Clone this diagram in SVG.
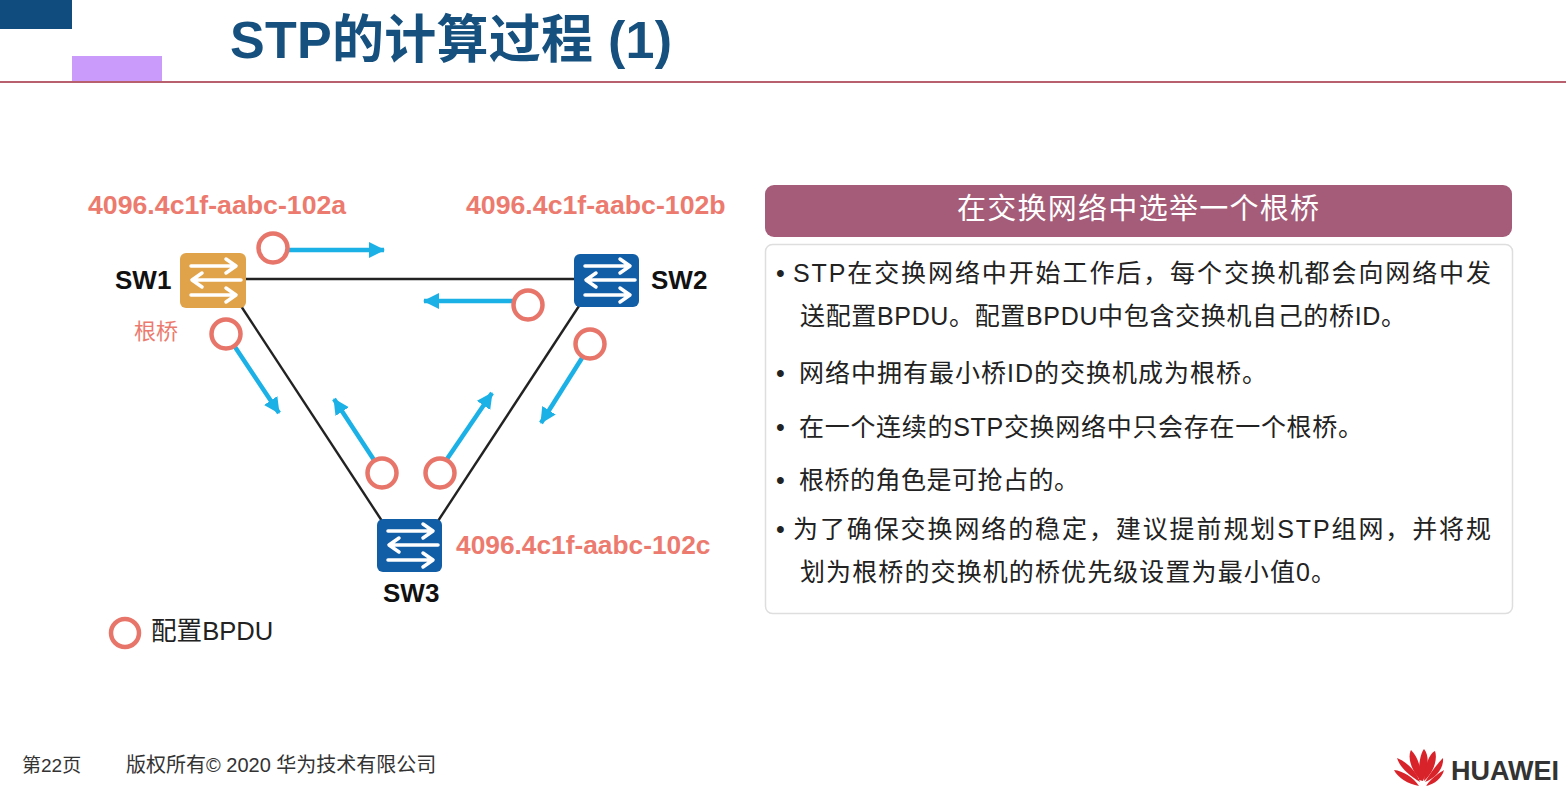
<svg xmlns="http://www.w3.org/2000/svg" width="1566" height="791" viewBox="0 0 1566 791">
<style>
text{font-family:"Liberation Sans","Noto Sans CJK SC",sans-serif}
.id{font-size:26.7px;font-weight:bold;fill:#ec7a6e}
.sw{font-size:26px;font-weight:bold;fill:#111}
.body{font-size:25px;fill:#222}
.foot{font-size:20px;fill:#333}
.link{stroke:#222;stroke-width:2.4;fill:none}
.arrow{stroke:#1bb1e6;stroke-width:4.500;fill:none;marker-end:url(#ah)}
.pdu{fill:#fff;stroke:#e8756a;stroke-width:4.500}
.g{fill:none;stroke:#fff;stroke-width:3.500;stroke-linecap:round;stroke-linejoin:round}
</style>
<defs>
<marker id="ah" markerUnits="userSpaceOnUse" markerWidth="18" markerHeight="18" refX="15" refY="8" orient="auto"><path d="M0 0L16 8L0 16z" fill="#1bb1e6"/></marker>
<g id="glyph"><path class="g" d="M8 12H52M43 5L53 12L43 19M58 26H10M19 19L9 26L19 33M8 41H52M43 34L53 41L43 48"/></g>
</defs>
<rect width="1566" height="791" fill="#fff"/>
<g id="header">
<rect x="0" y="0" width="72" height="29" fill="#114c7e"/>
<rect x="72" y="56" width="90" height="26" fill="#cb9bfb"/>
<rect x="0" y="81" width="1566" height="2" fill="#b9606f"/>
<text x="230" y="58" font-size="52" font-weight="bold" fill="#15507f" textLength="442">STP的计算过程 (1)</text>
</g>
<g id="connectors">
<path class="link" d="M245 279H575"/>
<path class="link" d="M241 306L382 521"/>
<path class="link" d="M579 306L438 521"/>
<path class="arrow" d="M288 250H384"/>
<path class="arrow" d="M514 301H424"/>
<path class="arrow" d="M235 347L279 413"/>
<path class="arrow" d="M582 358L541 423"/>
<path class="arrow" d="M374 460L334 399"/>
<path class="arrow" d="M447 459L492 393"/>
</g>
<g id="sw1"><rect x="180" y="253" width="66" height="55" rx="6" fill="#e1a349"/><use href="#glyph" x="183" y="254"/><text class="sw" x="115" y="289">SW1</text><text x="134" y="339" font-size="22" fill="#ec7a6e">根桥</text><text class="id" x="88" y="214">4096.4c1f-aabc-102a</text></g>
<g id="sw2"><rect x="574" y="254" width="65" height="53" rx="6" fill="#115ea6"/><use href="#glyph" x="577" y="254"/><text class="sw" x="651" y="289">SW2</text><text class="id" x="466" y="214">4096.4c1f-aabc-102b</text></g>
<g id="sw3"><rect x="377" y="519" width="65" height="53" rx="6" fill="#115ea6"/><use href="#glyph" x="380" y="519"/><text class="sw" x="383" y="602">SW3</text><text class="id" x="456" y="554" style="font-size:26.3px">4096.4c1f-aabc-102c</text></g>
<g id="bpdus">
<circle class="pdu" cx="273" cy="248" r="14.5"/>
<circle class="pdu" cx="528" cy="305" r="14.5"/>
<circle class="pdu" cx="226" cy="334" r="14.5"/>
<circle class="pdu" cx="590" cy="344" r="14.5"/>
<circle class="pdu" cx="382" cy="473" r="14.5"/>
<circle class="pdu" cx="440" cy="473" r="14.5"/>
</g>
<g id="legend"><circle class="pdu" cx="125" cy="633" r="14"/><text x="151" y="640" font-size="25.600" fill="#222">配置BPDU</text></g>
<g id="panel-title"><rect x="765" y="185" width="747" height="52" rx="9" fill="#a45c78"/><text x="1138" y="219" font-size="29" fill="#fff" text-anchor="middle" textLength="362">在交换网络中选举一个根桥</text></g>
<g id="panel-body">
<rect x="765.500" y="244.500" width="747" height="369" rx="7" fill="#fff" stroke="#dedede" stroke-width="1.500"/>
<text class="body" x="776" y="282">•</text><text class="body" x="793" y="282" textLength="698">STP在交换网络中开始工作后，每个交换机都会向网络中发</text>
<text class="body" x="800" y="325" textLength="606">送配置BPDU。配置BPDU中包含交换机自己的桥ID。</text>
<text class="body" x="776" y="382">•</text><text class="body" x="799" y="382" textLength="468">网络中拥有最小桥ID的交换机成为根桥。</text>
<text class="body" x="776" y="436">•</text><text class="body" x="799" y="436" textLength="564">在一个连续的STP交换网络中只会存在一个根桥。</text>
<text class="body" x="776" y="489">•</text><text class="body" x="799" y="489" textLength="280">根桥的角色是可抢占的。</text>
<text class="body" x="776" y="538">•</text><text class="body" x="793" y="538" textLength="698">为了确保交换网络的稳定，建议提前规划STP组网，并将规</text>
<text class="body" x="800" y="581" textLength="536">划为根桥的交换机的桥优先级设置为最小值0。</text>
</g>
<g id="footer">
<text class="foot" x="22" y="772" style="font-size:19px">第22页</text>
<text class="foot" x="126" y="772">版权所有© 2020 华为技术有限公司</text>
<g id="logo" fill="#d8232a">
<path d="M1419 786C1408 784 1398 778 1394 770C1403 771 1413 777 1419 786Z"/>
<path d="M1420 782C1410 776 1400 768 1397 758C1407 762 1416 771 1420 782Z"/>
<path d="M1420 780C1412 771 1407 758 1411 750C1418 757 1422 769 1420 780Z"/>
<path d="M1419 780C1418 768 1420 754 1424 749C1430 756 1428 770 1423 781Z"/>
<path d="M1424 781C1424 771 1428 754 1435 751C1438 760 1433 773 1424 781Z"/>
<path d="M1425 782C1430 773 1438 763 1443 758C1444 768 1436 778 1425 782Z"/>
<path d="M1426 786C1432 777 1441 772 1444 770C1442 778 1435 784 1426 786Z"/>
</g>
<text x="1451" y="780" font-size="27" font-weight="bold" fill="#333">HUAWEI</text>
</g>
</svg>
